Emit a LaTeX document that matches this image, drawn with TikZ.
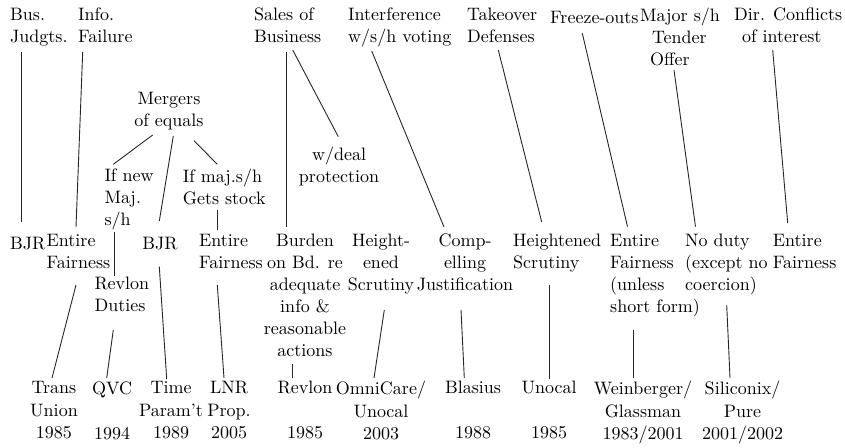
\documentclass[tikz,border=0pt]{standalone}
\usepackage{fontspec}
\setmainfont{lmroman10-regular.otf}
\begin{document}
\begin{tikzpicture}[x=1pt,y=-1pt,
  lbl/.style={inner sep=0pt, font=\fontsize{18}{22}\selectfont, execute at begin node=\strut},
  lbll/.style={lbl, anchor=north west, align=left},
  lblc/.style={lbl, anchor=north, align=center},
  case/.style={inner sep=0pt, font=\fontsize{18}{22.5}\selectfont, execute at begin node=\strut, anchor=north, align=center},
  link/.style={draw=black!85, line width=0.9pt}]
\useasboundingbox (0,0) rectangle (845,447);

% transaction types
\node[lbll] (bus) at (10,7.9) {Bus.\\Judgts.};
\node[lbll] (info) at (78,7.9) {Info.\\Failure};
\node[lbll] (sales) at (254,7.9) {Sales of\\Business};
\node[lbll] (interf) at (348,7.9) {Interference\\w/s/h voting};
\node[lbll] (takeover) at (467,7.9) {Takeover\\Defenses};
\node[lbll] (freeze) at (550,7.9) {Freeze-outs};
\node[lbll] (major) at (640,7.9) {Major s/h\\\hspace*{12pt}Tender\\\hspace*{10pt}Offer};
\node[lbll] (dir) at (734,7.9) {Dir. Conflicts\\\hspace*{8pt}of interest};

% sub-cases
\node[lblc] (mergers) at (169,91.6) {Mergers\\of equals};
\node[lbll] (ifnew) at (104.3,168.9) {If new\\Maj.\\s/h};
\node[lbll] (ifmaj) at (182.7,168.9) {If maj.s/h\\Gets stock};
\node[lblc] (wdeal) at (339,146.6) {w/deal\\protection};

% standards of review
\node[lbll] (bjr1) at (10,233.9) {BJR};
\node[lbll] (ef1) at (46.5,233.9) {Entire\\Fairness};
\node[lbll] (revduties) at (94.3,277.3) {Revlon\\Duties};
\node[lblc] (bjr2) at (160,233.9) {BJR};
\node[lbll] (ef2) at (199,233.9) {Entire\\Fairness};
\node[lblc] (burden) at (305,233.9) {Burden\\on Bd. re\\adequate\\info \&\\reasonable\\actions};
\node[lblc] (height1) at (381,233.9) {Height-\\ened\\Scrutiny};
\node[lblc] (comp) at (465,233.9) {Comp-\\elling\\Justification};
\node[lbll] (height2) at (513,233.9) {Heightened\\Scrutiny};
\node[lbll] (ef3) at (610,233.9) {Entire\\Fairness\\(unless\\short form)};
\node[lbll] (noduty) at (685,233.9) {No duty\\(except no\\coercion)};
\node[lbll] (ef4) at (772.7,233.9) {Entire\\Fairness};

% leading cases
\node[case] (transunion) at (54,381.25) {Trans\\Union\\1985};
\node[case] (qvc) at (112,381.25) {QVC\\\strut\\1994};
\node[case] (time) at (171,381.25) {Time\\Param't\\1989};
\node[case] (lnr) at (229,381.25) {LNR\\Prop.\\2005};
\node[case] (revlon) at (305,381.25) {Revlon\\\strut\\1985};
\node[case] (omni) at (381,381.25) {OmniCare/\\Unocal\\2003};
\node[case] (blasius) at (473,381.25) {Blasius\\\strut\\1988};
\node[case] (unocal) at (549,381.25) {Unocal\\\strut\\1985};
\node[case] (wein) at (643,381.25) {Weinberger/\\Glassman\\1983/2001};
\node[case] (silic) at (742.5,381.25) {Siliconix/\\Pure\\2001/2002};

% connectors
\draw[link] ([shift={(11.7,44.1)}]bus.north west) -- ([shift={(11.7,-11.9)}]bjr1.north west);
\draw[link] ([shift={(4.7,44.1)}]info.north west) -- ([shift={(29.5,-6.9)}]ef1.north west);
\draw[link] ([shift={(29.5,51.1)}]ef1.north west) -- ([shift={(-2,-3.25)}]transunion.north);
\draw[link] ([shift={(-16.3,43.4)}]mergers.north) -- ([shift={(9,-4.6)}]ifnew.north west);
\draw[link] ([shift={(4.3,44.4)}]mergers.north) -- ([shift={(-0.7,-12.9)}]bjr2.north);
\draw[link] ([shift={(25,49.1)}]mergers.north) -- ([shift={(34.6,-4.6)}]ifmaj.north west);
\draw[link] ([shift={(10,63.1)}]ifnew.north west) -- ([shift={(20,-1.3)}]revduties.north west);
\draw[link] ([shift={(19,52.7)}]revduties.north west) -- ([shift={(-5.3,-3.25)}]qvc.north);
\draw[link] ([shift={(-0.7,32.8)}]bjr2.north) -- ([shift={(-4.3,-2.25)}]time.north);
\draw[link] ([shift={(34.6,41.1)}]ifmaj.north west) -- ([shift={(18.3,-3.9)}]ef2.north west);
\draw[link] ([shift={(18.3,51.1)}]ef2.north west) -- ([shift={(-5,-3.25)}]lnr.north);
\draw[link] ([shift={(32.7,44.1)}]sales.north west) -- ([shift={(-18.3,-6.9)}]burden.north);
\draw[link] ([shift={(38.7,42.1)}]sales.north west) -- ([shift={(-0.7,-9.9)}]wdeal.north);
\draw[link] ([shift={(-12.3,130.1)}]burden.north) -- ([shift={(-12.3,-3.25)}]revlon.north);
\draw[link] ([shift={(3.3,76.1)}]height1.north) -- ([shift={(-7,-3.25)}]omni.north);
\draw[link] ([shift={(23.7,43.1)}]interf.north west) -- ([shift={(-21,-6.9)}]comp.north);
\draw[link] ([shift={(-4,76.1)}]comp.north) -- ([shift={(-8.7,-3.25)}]blasius.north);
\draw[link] ([shift={(31.3,42.1)}]takeover.north west) -- ([shift={(28.7,-11.9)}]height2.north west);
\draw[link] ([shift={(36.5,51.1)}]height2.north west) -- ([shift={(0.5,-2.75)}]unocal.north);
\draw[link] ([shift={(32.3,25.4)}]freeze.north west) -- ([shift={(17.5,-7.2)}]ef3.north west);
\draw[link] ([shift={(23.3,96.1)}]ef3.north west) -- ([shift={(-9.7,-3.25)}]wein.north);
\draw[link] ([shift={(34,62.1)}]major.north west) -- ([shift={(10.5,-7.2)}]noduty.north west);
\draw[link] ([shift={(41.7,71.1)}]noduty.north west) -- ([shift={(-12.5,-3.25)}]silic.north);
\draw[link] ([shift={(38.7,42.1)}]dir.north west) -- ([shift={(15,-10.9)}]ef4.north west);
\end{tikzpicture}
\end{document}
